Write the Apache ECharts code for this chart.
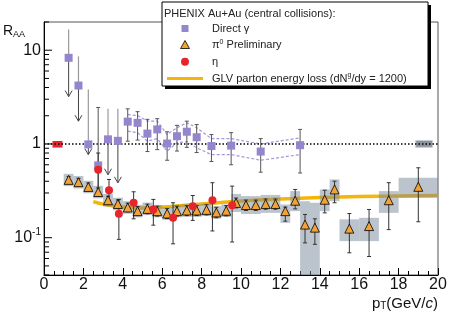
<!DOCTYPE html>
<html><head><meta charset="utf-8">
<script src="https://cdn.jsdelivr.net/npm/echarts@6/dist/echarts.min.js"></script>
<style>html,body{margin:0;padding:0;background:#fff}#c{width:450px;height:314px}</style>
</head><body><div id="c"></div>
<script>
// ---------- data ----------
const xTickLabels = ['0','2','4','6','8','10','12','14','16','18','20'];
const yMajorTicks = [0.1, 1, 10];
const yMinorTicks = [0.04,0.05,0.06,0.07,0.08,0.09,0.2,0.3,0.4,0.5,0.6,0.7,0.8,0.9,2,3,4,5,6,7,8,9,20];
const refLevel = [1];

// Direct photons
const gammaX  = [1.25,1.75,2.25,2.75,3.25,3.75,4.25,4.75,5.25,5.75,6.25,6.75,7.25,7.75,8.5,9.5,11,13];
const gammaY  = [8.3,4.2,0.99,0.59,1.12,1.08,1.73,1.68,1.29,1.43,1.01,1.21,1.35,1.18,0.95,0.96,0.83,0.97];
const gammaHi = [16.6,8.6,3.8,2.45,2.38,2.38,2.37,2.21,1.83,1.86,1.35,1.58,1.75,1.61,1.26,1.32,1.14,1.43];
const gammaLo = [3.2,1.75,0.77,0.30,0.47,0.385,1.07,1.10,0.83,0.87,0.67,0.84,0.92,0.81,0.65,0.60,0.50,0.49];
const gammaLimit = [1,1,1,0,1,1,0,0,0,0,0,0,0,0,0,0,0,0];
// Direct photon systematic band (dashed)
const bandX  = [4.25,4.75,5.25,5.75,6.25,6.75,7.25,7.75,8.5,9.5,11,13];
const bandHi = [2.06,2.01,1.75,1.75,1.26,1.49,1.68,1.49,1.14,1.14,1.0,1.16];
const bandLo = [1.37,1.32,1.07,1.14,0.84,1.03,1.06,0.91,0.77,0.77,0.67,0.77];

// pi0
const pi0X  = [1.25,1.75,2.25,2.75,3.25,3.75,4.25,4.75,5.25,5.75,6.25,6.75,7.25,7.75,8.25,8.75,9.25,9.75,10.25,10.75,11.25,11.75,12.25,12.75,13.25,13.75,14.25,14.75,15.5,16.5,17.5,19];
const pi0Y  = [0.414,0.391,0.348,0.307,0.251,0.229,0.210,0.192,0.203,0.192,0.181,0.192,0.195,0.195,0.198,0.186,0.194,0.235,0.223,0.223,0.229,0.229,0.192,0.248,0.138,0.128,0.254,0.327,0.125,0.133,0.251,0.349];
const pi0Hi = [0.45,0.43,0.384,0.339,0.277,0.253,0.234,0.215,0.228,0.217,0.205,0.217,0.220,0.220,0.225,0.211,0.220,0.265,0.252,0.252,0.259,0.259,0.212,0.327,0.177,0.159,0.321,0.401,0.181,0.200,0.386,0.557];
const pi0Lo = [0.38,0.355,0.316,0.278,0.228,0.208,0.189,0.172,0.180,0.170,0.160,0.170,0.172,0.172,0.175,0.163,0.171,0.208,0.195,0.195,0.201,0.201,0.150,0.203,0.088,0.085,0.184,0.236,0.069,0.063,0.122,0.148];
const pi0BinLo = [1,1.5,2,2.5,3,3.5,4,4.5,5,5.5,6,6.5,7,7.5,8,8.5,9,9.5,10,10.5,11,11.5,12,12.5,13,13.5,14,14.5,15,16,17,18];
const pi0BinHi = [1.5,2,2.5,3,3.5,4,4.5,5,5.5,6,6.5,7,7.5,8,8.5,9,9.5,10,10.5,11,11.5,12,12.5,13,13.5,14,14.5,15,16,17,18,20];
const pi0SysHi = [0.48,0.455,0.405,0.358,0.293,0.267,0.245,0.224,0.237,0.224,0.211,0.224,0.227,0.227,0.231,0.217,0.226,0.293,0.278,0.278,0.286,0.286,0.226,0.314,0.245,0.236,0.327,0.418,0.157,0.163,0.314,0.436];
const pi0SysLo = [0.355,0.335,0.298,0.263,0.215,0.196,0.180,0.165,0.174,0.165,0.155,0.165,0.167,0.167,0.170,0.160,0.166,0.188,0.179,0.179,0.184,0.184,0.144,0.192,0.03,0.03,0.192,0.245,0.092,0.092,0.184,0.266];

// eta
const etaX  = [2.75,3.3,3.8,4.55,5.55,6.55,7.55,8.55,9.55];
const etaY  = [0.53,0.321,0.18,0.236,0.2,0.163,0.217,0.251,0.222];
const etaHi = [0.80,0.418,0.256,0.309,0.256,0.236,0.282,0.386,0.355];
const etaLo = [0.29,0.25,0.096,0.159,0.136,0.086,0.153,0.118,0.090];

// normalization uncertainty boxes at R_AA = 1
const etaNorm    = [0.43, 0.94, 0.915, 1.075];
const globalNorm = [18.87, 19.72, 0.92, 1.09];

// GLV parton energy loss curve
const glvX = [2.5,3,3.5,4,4.5,5,6,7,8,9,10,12,14,16,18,20];
const glvY = [0.243,0.228,0.218,0.212,0.209,0.208,0.212,0.220,0.229,0.238,0.246,0.258,0.268,0.275,0.279,0.282];

// legend texts
const legendTitle = 'PHENIX Au+Au (central collisions):';
const NAMES = ['Direct γ', 'π0 Preliminary', 'η', 'GLV parton energy loss (dNg/dy = 1200)'];

// ---------- chart ----------
const FONT = '"Liberation Sans", Arial, Helvetica, sans-serif';
const C_GAMMA = '#9585cc', C_PI0 = '#f4a234', C_ETA = '#e8242c', C_GLV = '#f5b50a';
const chart = echarts.init(document.getElementById('c'), null, {renderer: 'canvas'});

function errRender(color, cap) {
  return function (params, api) {
    const x = api.value(0), y = api.value(1), lo = api.value(2), hi = api.value(3), lim = api.value(4);
    const pH = api.coord([x, hi]), pL = api.coord([x, lo]), pC = api.coord([x, y]);
    const ch = [];
    if (lim) {
      ch.push({type: 'line', shape: {x1: pH[0], y1: pH[1], x2: pC[0], y2: pC[1]}, style: {stroke: '#9a9a9a', lineWidth: 1.2}});
      ch.push({type: 'line', shape: {x1: pC[0], y1: pC[1], x2: pL[0], y2: pL[1]}, style: {stroke: '#444', lineWidth: 1}});
      ch.push({type: 'polyline', shape: {points: [[pL[0] - 3.5, pL[1] - 6], [pL[0], pL[1]], [pL[0] + 3.5, pL[1] - 6]]}, style: {stroke: '#444', lineWidth: 1, fill: null}});
    } else {
      ch.push({type: 'line', shape: {x1: pH[0], y1: pH[1], x2: pL[0], y2: pL[1]}, style: {stroke: color, lineWidth: 1}});
      ch.push({type: 'line', shape: {x1: pH[0] - cap, y1: pH[1], x2: pH[0] + cap, y2: pH[1]}, style: {stroke: color, lineWidth: 1}});
      ch.push({type: 'line', shape: {x1: pL[0] - cap, y1: pL[1], x2: pL[0] + cap, y2: pL[1]}, style: {stroke: color, lineWidth: 1}});
    }
    return {type: 'group', children: ch};
  };
}
function boxRender(fill, stroke) {
  return function (params, api) {
    const a = api.coord([api.value(0), api.value(3)]);
    const b = api.coord([api.value(1), api.value(2)]);
    const cs = params.coordSys;
    const r = echarts.graphic.clipRectByRect(
      {x: a[0], y: a[1], width: b[0] - a[0], height: b[1] - a[1]},
      {x: cs.x, y: cs.y, width: cs.width, height: cs.height});
    if (!r) return null;
    return {type: 'rect', shape: r, style: {fill: fill, stroke: stroke, lineWidth: stroke ? 1 : 0}};
  };
}
function tickRender(len) {
  return function (params, api) {
    const p = api.coord([api.value(0), api.value(1)]);
    return {type: 'line', shape: {x1: p[0], y1: p[1], x2: p[0] + len, y2: p[1]}, style: {stroke: '#000', lineWidth: 1}};
  };
}

// legend box (drawn as graphic)
const LX = 162, LY = 2, LW = 266, LH = 84, SX = 185, TX = 212;
const rowY = [28.5, 45, 61.8, 78.5];
const legendTextStyle = {fontFamily: FONT, fontSize: 11, fill: '#222', verticalAlign: 'middle', align: 'left'};
const legendRich = {
  t: {fontFamily: FONT, fontSize: 11, fill: '#222', lineHeight: 13},
  s: {fontFamily: FONT, fontSize: 7, fill: '#222', verticalAlign: 'top', lineHeight: 9}
};
const legendGraphic = {
  type: 'group', z: 100, children: [
    {type: 'rect', shape: {x: LX + 3, y: LY + 3, width: LW, height: LH}, style: {fill: '#000'}},
    {type: 'rect', shape: {x: LX, y: LY, width: LW, height: LH}, style: {fill: '#fff', stroke: '#000', lineWidth: 1}},
    {type: 'text', x: LX + 2, y: 13.5, style: Object.assign({text: legendTitle}, legendTextStyle)},
    {type: 'rect', shape: {x: SX - 3.5, y: rowY[0] - 3.5, width: 7, height: 7}, style: {fill: C_GAMMA}},
    {type: 'text', x: TX, y: rowY[0], style: Object.assign({text: NAMES[0]}, legendTextStyle)},
    {type: 'polygon', shape: {points: [[SX, rowY[1] - 4.5], [SX + 4.5, rowY[1] + 3.5], [SX - 4.5, rowY[1] + 3.5]]}, style: {fill: C_PI0, stroke: '#000', lineWidth: 0.8}},
    {type: 'text', x: TX, y: rowY[1], style: Object.assign({text: '{t|π}{s|0}{t| Preliminary}', rich: legendRich}, legendTextStyle)},
    {type: 'circle', shape: {cx: SX, cy: rowY[2], r: 4}, style: {fill: C_ETA}},
    {type: 'text', x: TX, y: rowY[2], style: Object.assign({text: NAMES[2]}, legendTextStyle)},
    {type: 'line', shape: {x1: SX - 18, y1: rowY[3], x2: SX + 18, y2: rowY[3]}, style: {stroke: C_GLV, lineWidth: 3}},
    {type: 'text', x: TX, y: rowY[3], style: Object.assign({text: '{t|GLV parton energy loss (dN}{s|g}{t|/dy = 1200)}', rich: legendRich}, legendTextStyle)}
  ]
};

const option = {
  animation: false,
  grid: {left: 44, right: 12, top: 22, bottom: 39, show: true, borderColor: '#555', borderWidth: 1, backgroundColor: 'transparent'},
  xAxis: {
    type: 'value', min: 0, max: 20, interval: 2,
    axisLine: {lineStyle: {color: '#000', width: 1}},
    axisTick: {inside: true, length: 7, lineStyle: {color: '#000'}},
    minorTick: {show: true, splitNumber: 4, length: 4, lineStyle: {color: '#000'}},
    splitLine: {show: false},
    axisLabel: {fontFamily: FONT, fontSize: 16, color: '#111', margin: 2, lineHeight: 16,
      formatter: function (v) { return xTickLabels[Math.round(v / 2)]; }}
  },
  yAxis: {
    type: 'log', logBase: 10, min: 0.04, max: 20,
    axisLine: {lineStyle: {color: '#000', width: 1}},
    axisTick: {show: false},
    splitLine: {show: false},
    axisLabel: {
      fontFamily: FONT, fontSize: 16, color: '#111', margin: 3,
      rich: {
        a: {fontFamily: FONT, fontSize: 16, color: '#111', lineHeight: 20},
        s: {fontFamily: FONT, fontSize: 10, color: '#111', verticalAlign: 'top', lineHeight: 12}
      },
      formatter: function (v) {
        const e = Math.log10(v);
        if (Math.abs(e - Math.round(e)) > 1e-6) return '';
        const k = Math.round(e);
        if (!yMajorTicks.some(m => Math.abs(Math.log10(m) - k) < 1e-6)) return '';
        if (k >= 0) return '{a|' + Math.pow(10, k) + '}';
        return '{a|10}{s|' + k + '}';
      }
    }
  },
  graphic: [
    {type: 'text', left: 3, top: 24,
      style: {text: '{r|R}{s|AA}',
        rich: {
          r: {fontFamily: FONT, fontSize: 14, fill: '#111', lineHeight: 16},
          s: {fontFamily: FONT, fontSize: 9, fill: '#111', verticalAlign: 'bottom', lineHeight: 11}
        }}},
    {type: 'text', right: 12, top: 296,
      style: {text: '{n|p}{b|T}{n|(GeV/}{i|c}{n|)}',
        rich: {
          n: {fontFamily: FONT, fontSize: 15, fill: '#111', lineHeight: 16},
          b: {fontFamily: FONT, fontSize: 10, fill: '#111', verticalAlign: 'bottom', lineHeight: 11},
          i: {fontFamily: FONT, fontSize: 15, fill: '#111', fontStyle: 'italic', lineHeight: 16}
        }}},
    legendGraphic
  ],
  series: [
    {name: NAMES[3], type: 'line', smooth: true, symbol: 'none', z: 2,
      lineStyle: {color: C_GLV, width: 3.5}, itemStyle: {color: C_GLV},
      data: glvX.map((x, i) => [x, glvY[i]])},
    {name: 'pi0 sys', type: 'custom', z: 3,
      renderItem: boxRender('rgba(120,138,155,0.5)', null),
      encode: {x: [0, 1], y: [2, 3]},
      data: pi0X.map((x, i) => [pi0BinLo[i], pi0BinHi[i], pi0SysLo[i], pi0SysHi[i]])},
    {name: 'gamma band hi', type: 'line', symbol: 'none', z: 3,
      lineStyle: {color: '#a597dc', width: 1.2, type: [3, 2]},
      data: bandX.map((x, i) => [x, bandHi[i]])},
    {name: 'gamma band lo', type: 'line', symbol: 'none', z: 3,
      lineStyle: {color: '#a597dc', width: 1.2, type: [3, 2]},
      data: bandX.map((x, i) => [x, bandLo[i]])},
    {name: 'eta norm', type: 'custom', z: 4,
      renderItem: boxRender(C_ETA, null), encode: {x: [0, 1], y: [2, 3]},
      data: [etaNorm]},
    {name: 'global norm', type: 'custom', z: 4,
      renderItem: boxRender('#8a939c', '#c8ced4'), encode: {x: [0, 1], y: [2, 3]},
      data: [globalNorm]},
    {name: 'y major ticks', type: 'custom', z: 5, clip: false, silent: true,
      renderItem: tickRender(8), encode: {x: 0, y: 1}, data: yMajorTicks.map(v => [0, v])},
    {name: 'y minor ticks', type: 'custom', z: 5, clip: false, silent: true,
      renderItem: tickRender(5), encode: {x: 0, y: 1}, data: yMinorTicks.map(v => [0, v])},
    {name: 'gamma err', type: 'custom', z: 6,
      renderItem: errRender('#555', 2), encode: {x: 0, y: [1, 2, 3]},
      data: gammaX.map((x, i) => [x, gammaY[i], gammaLo[i], gammaHi[i], gammaLimit[i]])},
    {name: 'pi0 err', type: 'custom', z: 6,
      renderItem: errRender('#333', 2), encode: {x: 0, y: [1, 2, 3]},
      data: pi0X.map((x, i) => [x, pi0Y[i], pi0Lo[i], pi0Hi[i], 0])},
    {name: 'eta err', type: 'custom', z: 6,
      renderItem: errRender('#333', 2), encode: {x: 0, y: [1, 2, 3]},
      data: etaX.map((x, i) => [x, etaY[i], etaLo[i], etaHi[i], 0])},
    {name: NAMES[0], type: 'scatter', symbol: 'rect', symbolSize: 8, z: 7,
      itemStyle: {color: C_GAMMA, opacity: 1},
      markLine: {silent: true, symbol: 'none', label: {show: false},
        lineStyle: {color: '#000', type: [1.5, 2], width: 1.5},
        data: refLevel.map(v => ({yAxis: v}))},
      data: gammaX.map((x, i) => [x, gammaY[i]])},
    {name: NAMES[1], type: 'scatter', symbol: 'triangle', symbolSize: 9, z: 8,
      itemStyle: {color: C_PI0, borderColor: '#000', borderWidth: 0.8, opacity: 1},
      data: pi0X.map((x, i) => [x, pi0Y[i]])},
    {name: NAMES[2], type: 'scatter', symbol: 'circle', symbolSize: 8, z: 8,
      itemStyle: {color: C_ETA, opacity: 1},
      data: etaX.map((x, i) => [x, etaY[i]])}
  ]
};
chart.setOption(option);
</script>
</body></html>
